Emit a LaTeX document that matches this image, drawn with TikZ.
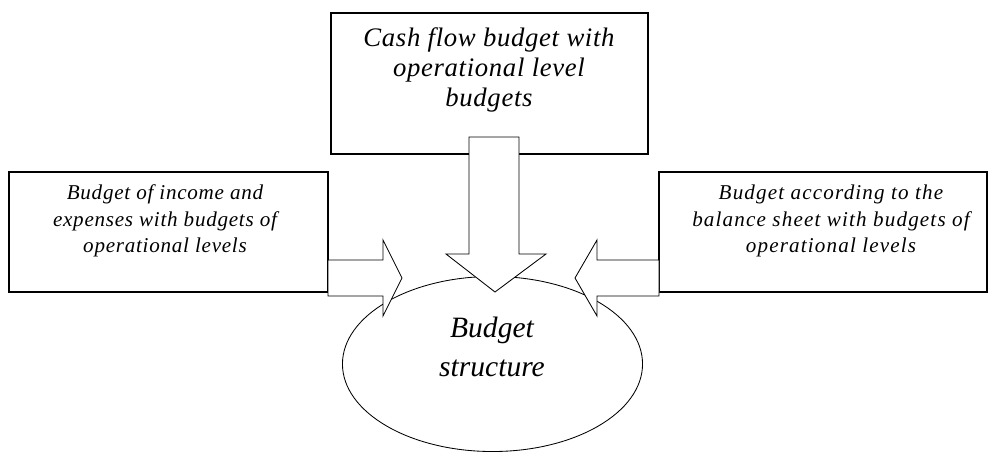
\documentclass[tikz,border=0pt]{standalone}
\usepackage{fontspec}
\setmainfont{Liberation Serif}
\newfontfamily\widefont[LetterSpace=5.5]{Liberation Serif}
\newfontfamily\halfwidefont[LetterSpace=3.5]{Liberation Serif}
\newfontfamily\lesswidefont[LetterSpace=2.5]{Liberation Serif}
\usetikzlibrary{shapes.geometric}

\begin{document}
\begin{tikzpicture}[x=0.025cm,y=-0.025cm,
    box node/.style={rectangle,draw,line width=0.8pt,inner sep=0pt},
    small text/.style={font=\widefont\fontsize{15}{19}\selectfont\itshape,align=center},
    big text/.style={font=\lesswidefont\fontsize{19}{21.5}\selectfont\itshape,align=center},
    block arrow/.style={draw,fill=white,line width=0.6pt,line join=miter}]
  \useasboundingbox (0,0) rectangle (988,453);
  \begin{scope}
    % boxes
    \node[box node,minimum width=7.925cm,minimum height=3.525cm] (cash) at (489.5,83.5) {};
    \node[box node,minimum width=7.975cm,minimum height=3cm] (income) at (168.5,232) {};
    \node[box node,minimum width=8.2cm,minimum height=3cm] (balance) at (823,232) {};
    \node[ellipse,draw,line width=0.6pt,minimum width=7.5cm,minimum height=4.375cm,inner sep=0pt] (struct) at (492.5,364) {};

    % texts
    \node[big text] (cashtxt) at (489,70) {Cash flow budget with\\operational level\\budgets};
    \node[small text,font=\halfwidefont\fontsize{15}{19}\selectfont\itshape] (incometxt) at (165,221) {Budget of income and\\expenses with budgets of\\operational levels};
    \node[small text] (balancetxt) at (831,221) {Budget according to the\\balance sheet with budgets of\\operational levels};
    \node[big text,font=\fontsize{21}{28}\selectfont\itshape] (structtxt) at (492,347) {Budget\\structure};

    % block arrows
    \draw[block arrow] (469,137) -- (519,137) -- (519,254) -- (546,254) -- (495,292) -- (446,254) -- (469,254) -- cycle;
    \draw[block arrow] (328,260) -- (383,260) -- (383,240) -- (402,278) -- (383,316) -- (383,296) -- (328,296) -- cycle;
    \draw[block arrow] (659,260) -- (597,260) -- (597,240) -- (575,278) -- (597,316) -- (597,296) -- (659,296) -- cycle;
  \end{scope}
\end{tikzpicture}
\end{document}
